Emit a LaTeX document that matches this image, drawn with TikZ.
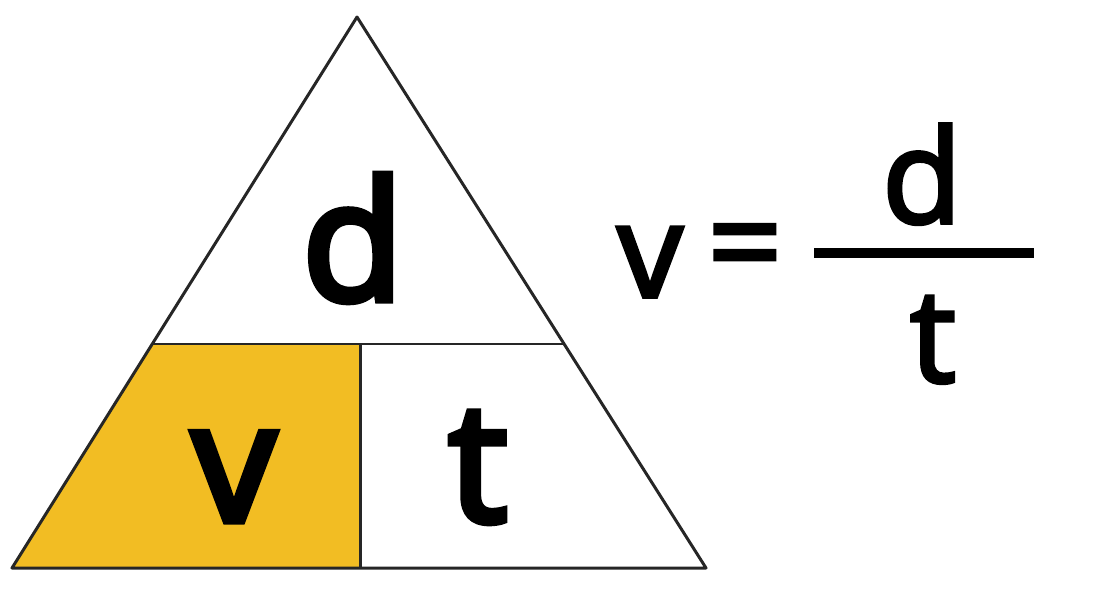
\documentclass[tikz,border=0pt]{standalone}
\usepackage{fontspec}
\setmainfont{Open Sans}
\newfontfamily\semifont{Open Sans}[FakeBold=3]
\newfontfamily\heavyfont{Open Sans}[FakeBold=4.5]
\usetikzlibrary{positioning}
\definecolor{cellyellow}{HTML}{F2BD23}

\begin{document}
\begin{tikzpicture}[
    x=0.01cm, y=-0.01cm,
    every node/.style={inner sep=0pt},
    edge/.style={draw=black!85, line width=0.85pt, line join=round},
    big/.style={font=\fontsize{47}{47}\heavyfont, anchor=base},
    eq/.style={font=\fontsize{37}{37}\semifont, anchor=base}
]
\useasboundingbox (0,0) rectangle (1095,588);

% Corners of the triangle
\coordinate (apex) at (357,17);
\coordinate (bl) at (12,568);
\coordinate (br) at (706,568);
\coordinate (ml) at (152,344);
\coordinate (mr) at (564,344);
\coordinate (mm) at (360,344);
\coordinate (bm) at (360,568);

% Highlighted cell
\fill[cellyellow] (ml) -- (mm) -- (bm) -- (bl) -- cycle;

% Outline and dividers
\draw[edge] (apex) -- (br) -- (bl) -- cycle;
\draw[edge] (ml) -- (mr);
\draw[edge] (mm) -- (bm);

% Letters in the triangle
\node[big] (dist) at (353,300) {d};
\node[big] (vel) at (234,521) {v};
\node[big] (time) at (478,521) {t};

% Formula
\node[eq] (lhs) at (650,297) {v};
\node[eq] (eqsign) at (745,288) {=};
\node[fill=black, minimum width=2.2cm, minimum height=0.1cm] (bar) at (924,253) {};
\node[eq] (num) at (922,223) {d};
\node[eq] (den) at (933,382) {t};

\end{tikzpicture}
\end{document}
